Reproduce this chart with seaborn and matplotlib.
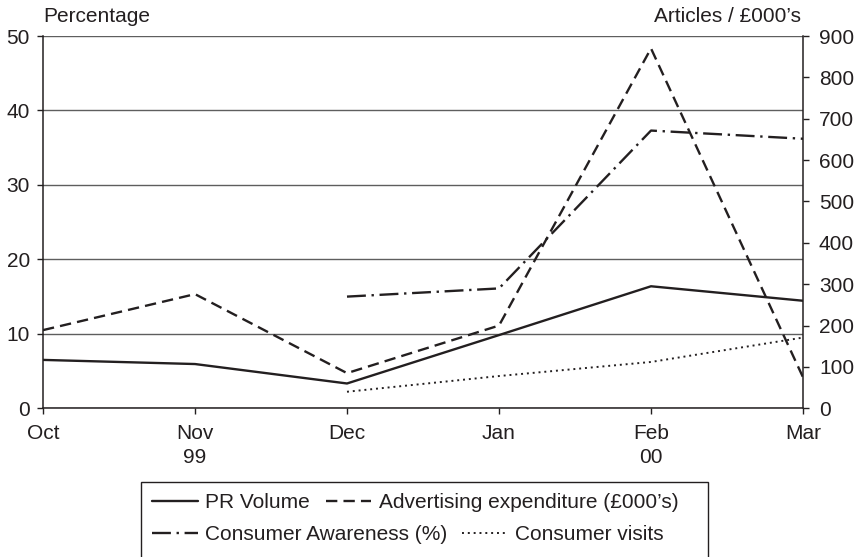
import matplotlib
matplotlib.use("Agg")
import matplotlib.pyplot as plt
from matplotlib.lines import Line2D
from matplotlib.patches import Rectangle
import seaborn as sns
import pandas as pd
import numpy as np

# ---------------- data ----------------
months = ["Oct", "Nov", "Dec", "Jan", "Feb", "Mar"]
month_labels = ["Oct", "Nov\n99", "Dec", "Jan", "Feb\n00", "Mar"]
pr_volume = [117, 107, 60, 177, 295, 260]            # right axis (Articles)
ad_expenditure = [189, 276, 85, 200, 870, 75]        # right axis (£000's)
awareness = [None, None, 15.0, 16.1, 37.3, 36.2]     # left axis (%)
visits = [None, None, 40, 78, 112, 171]              # right axis
left_ticks = [0, 10, 20, 30, 40, 50]
right_ticks = [0, 100, 200, 300, 400, 500, 600, 700, 800, 900]

sns.set_theme(style="white")
plt.rcParams["font.family"] = ["Liberation Sans", "DejaVu Sans"]
INK = "#231f20"
FS = 15

W, H = 855, 557
fig = plt.figure(figsize=(W / 100, H / 100), dpi=100)
x0, x1, y0, y1 = 43, 803, 36, 408.3
ax = fig.add_axes([x0 / W, 1 - y1 / H, (x1 - x0) / W, (y1 - y0) / H])
ax2 = ax.twinx()

pos = list(range(len(months)))


def frame(values):
    d = pd.DataFrame({"x": pos, "y": values})
    return d.dropna()


LW = 1.7
styles = {
    "pr": dict(linestyle="-", linewidth=LW),
    "ad": dict(linestyle=(0, (4.8, 2.6)), linewidth=LW),
    "aw": dict(linestyle=(0, (8, 2.4, 1.0, 2.4)), linewidth=LW),
    "vi": dict(linestyle=(0, (1, 2.0)), linewidth=1.4),
}

sns.lineplot(data=frame(awareness), x="x", y="y", ax=ax, color=INK, **styles["aw"])
sns.lineplot(data=frame(pr_volume), x="x", y="y", ax=ax2, color=INK, **styles["pr"])
sns.lineplot(data=frame(ad_expenditure), x="x", y="y", ax=ax2, color=INK, **styles["ad"])
sns.lineplot(data=frame(visits), x="x", y="y", ax=ax2, color=INK, **styles["vi"])

# axes limits / ticks
ax.set_xlim(0, len(months) - 1)
ax.set_ylim(0, 50)
ax2.set_ylim(0, 900)
ax.set_xticks(pos)
ax.set_xticklabels(month_labels, linespacing=1.3)
ax.set_yticks(left_ticks)
ax2.set_yticks(right_ticks)
ax.set_xlabel("")
ax.set_ylabel("")
ax2.set_ylabel("")

ax.yaxis.grid(True, color="#5e5e5e", linewidth=1.0)
ax.xaxis.grid(False)
ax2.grid(False)
ax.set_axisbelow(True)

for a in (ax, ax2):
    a.set_facecolor("none")
    for s in a.spines.values():
        s.set_visible(False)
ax.spines["left"].set_visible(True)
ax.spines["bottom"].set_visible(True)
ax2.spines["right"].set_visible(True)
for s in (ax.spines["left"], ax.spines["bottom"], ax2.spines["right"]):
    s.set_color(INK)
    s.set_linewidth(1.1)

ax.tick_params(axis="y", which="major", left=True, direction="out", length=4.5,
               width=1.0, color=INK, labelsize=FS, labelcolor=INK, pad=5)
ax.tick_params(axis="x", which="major", bottom=True, direction="out", length=4.5,
               width=1.0, color=INK, labelsize=FS, labelcolor=INK, pad=7)
ax2.tick_params(axis="y", which="major", right=True, direction="out", length=4.5,
                width=1.0, color=INK, labelsize=FS, labelcolor=INK, pad=7)

# axis titles
fig.text(43 / W, 1 - 22 / H, "Percentage", ha="left", va="baseline",
         fontsize=FS, color=INK)
fig.text(801 / W, 1 - 22 / H, "Articles / £000’s", ha="right", va="baseline",
         fontsize=FS, color=INK)

# legend frame
fig.patches.append(Rectangle((141 / W, -0.1), (708 - 141) / W, 0.1 + 1 - 482 / H,
                             transform=fig.transFigure, fill=False,
                             edgecolor=INK, linewidth=1.0))

LFS = 15
h_pr = Line2D([], [], color=INK, **styles["pr"])
h_ad = Line2D([], [], color=INK, **styles["ad"])
h_aw = Line2D([], [], color=INK, **styles["aw"])
h_vi = Line2D([], [], color=INK, **styles["vi"])

fig.legend(handles=[h_pr, h_ad], labels=["PR Volume", "Advertising expenditure (£000’s)"],
           ncol=2, loc="center left", bbox_to_anchor=(152 / W, 1 - 503 / H),
           bbox_transform=fig.transFigure, frameon=False, borderpad=0,
           borderaxespad=0, handlelength=2.2, handletextpad=0.35,
           columnspacing=0.75, fontsize=LFS, labelcolor=INK)
fig.legend(handles=[h_aw, h_vi], labels=["Consumer Awareness (%)", "Consumer visits"],
           ncol=2, loc="center left", bbox_to_anchor=(152 / W, 1 - 535 / H),
           bbox_transform=fig.transFigure, frameon=False, borderpad=0,
           borderaxespad=0, handlelength=2.2, handletextpad=0.35,
           columnspacing=0.7, fontsize=LFS, labelcolor=INK)

fig.savefig("out.png", dpi=100, facecolor="white")
